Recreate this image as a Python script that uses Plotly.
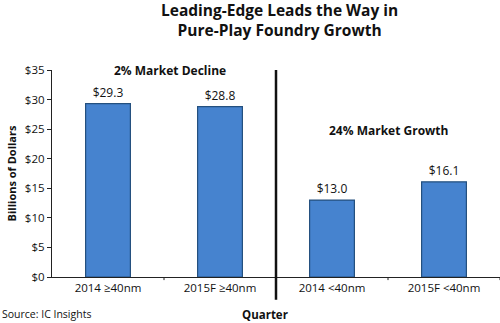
import plotly.graph_objects as go

categories = ["2014 ≥40nm", "2015F ≥40nm", "2014 <40nm", "2015F <40nm"]
values = [29.3, 28.8, 13.0, 16.1]
value_labels = ["$29.3", "$28.8", "$13.0", "$16.1"]
y_ticks = [0, 5, 10, 15, 20, 25, 30, 35]
y_tick_labels = ["$0", "$5", "$10", "$15", "$20", "$25", "$30", "$35"]
title_lines = ["Leading-Edge Leads the Way in", "Pure-Play Foundry Growth"]

FONT = "Open Sans"

fig = go.Figure()
fig.add_trace(go.Bar(
    x=list(range(len(categories))), y=values,
    width=0.4,
    marker=dict(color="#4683CF", line=dict(color="#24507F", width=1.2)),
    text=value_labels, textposition="outside",
    textfont=dict(family=FONT, size=12, color="#111"),
    cliponaxis=False,
))

fig.update_layout(
    width=500, height=323,
    margin=dict(l=52, r=0, t=70, b=46),
    paper_bgcolor="white", plot_bgcolor="white",
    showlegend=False,
    bargap=0.6,
    font=dict(family=FONT, size=12, color="#111"),
    xaxis=dict(
        range=[-0.5, 3.5],
        tickmode="array", tickvals=list(range(len(categories))), ticktext=categories,
        showline=True, linecolor="#222", linewidth=1.2,
        ticks="", showgrid=False, zeroline=False,
        tickfont=dict(family=FONT, size=11.5, color="#111"),
    ),
    yaxis=dict(
        range=[0, 35],
        tickmode="array", tickvals=y_ticks, ticktext=y_tick_labels,
        showline=True, linecolor="#222", linewidth=1.2,
        ticks="outside", ticklen=4, tickcolor="#222",
        showgrid=False, zeroline=False,
        tickfont=dict(family=FONT, size=11.5, color="#111"),
        title=dict(text="<b>Billions of Dollars</b>", font=dict(family=FONT, size=11), standoff=6),
    ),
)

# title (two lines, one annotation)
fig.add_annotation(text="<b>" + "<br>".join(title_lines) + "</b>", xref="paper", yref="paper",
                   x=0.508, y=1.24, xanchor="center", yanchor="middle", showarrow=False,
                   font=dict(family=FONT, size=15.5, color="#111"))

# minor x ticks between categories
for xv in [0.5, 2.5, 3.5]:
    fig.add_shape(type="line", xref="x", yref="paper", x0=xv, x1=xv, y0=0, y1=-0.015,
                  line=dict(color="#222", width=1))

# divider
fig.add_shape(type="line", xref="x", yref="paper", x0=1.5, x1=1.5, y0=-0.11, y1=1.0,
              line=dict(color="#111", width=2.5))

fig.add_annotation(text="<b>2% Market Decline</b>", xref="x", yref="paper", x=0.55, y=1.0,
                   yanchor="middle", showarrow=False, font=dict(family=FONT, size=12, color="#111"))
fig.add_annotation(text="<b>24% Market Growth</b>", xref="x", yref="y", x=2.5, y=24.7,
                   yanchor="middle", showarrow=False, font=dict(family=FONT, size=12, color="#111"))
fig.add_annotation(text="<b>Quarter</b>", xref="paper", yref="paper", x=0.475, y=-0.182,
                   xanchor="center", yanchor="middle", showarrow=False,
                   font=dict(family=FONT, size=11.5, color="#111"))
fig.add_annotation(text="Source: IC Insights", xref="paper", yref="paper", x=-0.115, y=-0.177,
                   xanchor="left", yanchor="middle", showarrow=False,
                   font=dict(family=FONT, size=10.5, color="#111"))

fig.write_html("out.html")
